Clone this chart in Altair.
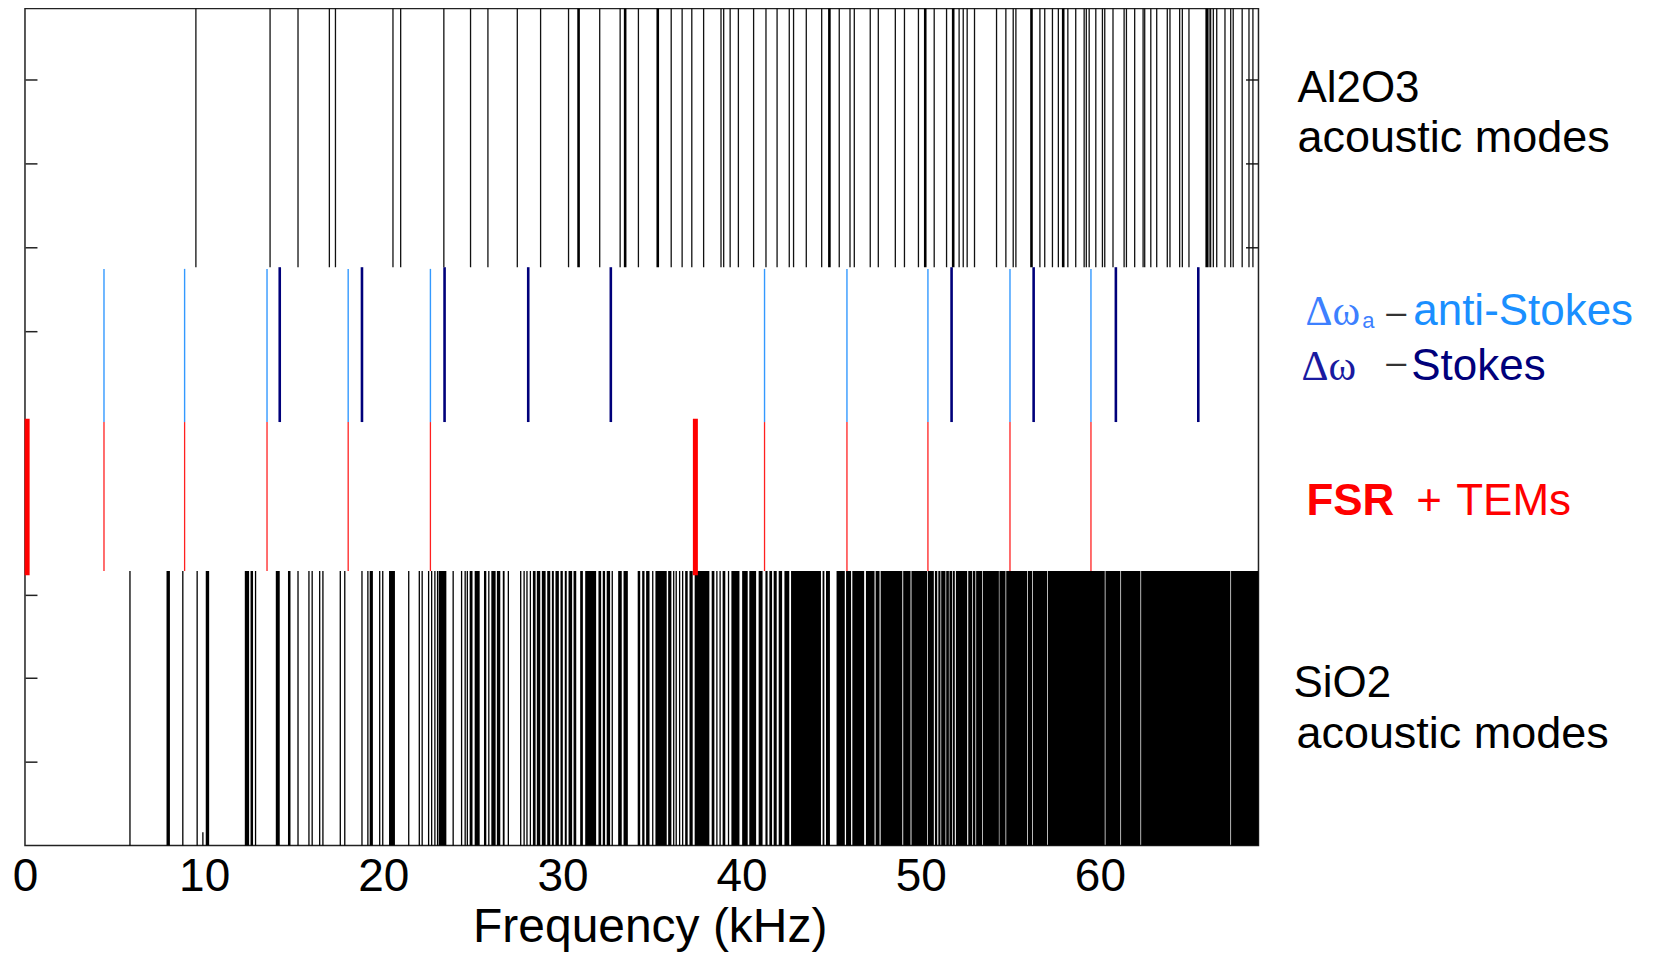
import altair as alt
import pandas as pd

# ---------------- data (kHz) ----------------
al2o3_modes = [9.54, 13.68, 15.24, 16.99, 17.33, 20.54, 20.97, 23.38, 24.87, 25.84, 27.48,
               28.78, 30.34, 32.08, 33.22, 34.24, 36.07, 36.68, 37.22, 37.88, 38.85, 39.00,
               39.36, 39.82, 40.67, 41.36, 41.98, 42.66, 42.90, 43.61, 44.47, 45.45, 46.05,
               46.29, 47.18, 47.63, 48.58, 49.09, 49.87, 50.75, 51.44, 52.14, 52.37, 52.59,
               53.00, 54.23, 54.75, 55.16, 55.31, 56.65, 56.92, 57.35, 57.68, 58.21, 58.65,
               59.12, 59.24, 59.40, 59.77, 60.14, 60.27, 60.73, 61.35, 61.48, 61.94, 62.41,
               62.50, 62.84, 63.17, 63.76, 63.91, 64.45, 64.60, 64.97, 66.09, 66.18, 66.33,
               66.52, 66.98, 67.30, 67.44, 67.94, 68.32, 68.54]
al2o3_strong = [30.90, 33.50, 35.32, 44.90, 50.25, 51.81, 56.18, 57.95, 65.96]

anti_stokes = [4.41, 8.91, 13.51, 18.04, 22.63, 41.28, 45.88, 50.40, 54.98, 59.50]
stokes = [14.22, 18.81, 23.42, 28.09, 32.70, 51.72, 56.30, 60.89, 65.49]

tems = [4.41, 8.91, 13.51, 18.04, 22.63, 41.28, 45.88, 50.40, 54.98, 59.50]
fsr = [0.12, 37.42]

sio2_modes = [5.86, 8.81, 9.61, 12.87, 15.24, 15.85, 16.03, 16.45, 16.63, 17.60, 17.85,
              18.81, 19.14, 19.80, 19.97, 21.42, 22.01, 22.17, 22.53, 22.70, 22.88, 23.03,
              23.90, 24.37, 24.57, 24.69, 25.89, 26.98, 27.67, 27.86, 28.02, 28.21, 32.78,
              35.04, 36.21, 36.35, 36.54, 36.71, 38.62, 38.80, 39.27]
sio2_stub = [9.93]
sio2_band_start = [7.90, 10.09, 12.27, 12.59, 14.00, 14.68, 19.24, 20.32, 23.09, 24.82, 25.10,
                   25.62, 26.03, 26.34, 26.67, 28.35, 28.57, 28.85, 29.15, 29.41, 29.61, 29.89,
                   30.13, 30.34, 30.62, 30.99, 31.27, 32.01, 32.25, 32.47, 33.11, 33.41, 34.20,
                   34.45, 34.67, 35.19, 35.90, 36.85, 37.09, 37.38, 38.33, 38.94, 39.43, 40.03,
                   40.43, 40.95, 41.33, 41.55, 41.79, 42.07, 42.39, 42.76, 44.52, 44.71, 45.30,
                   45.83, 46.18, 46.94, 47.48, 47.76, 49.02, 49.48, 50.40, 50.79, 50.98, 51.14,
                   51.42, 51.60, 51.79, 51.96, 52.65, 52.91, 53.09, 53.47, 54.39, 54.77, 55.98,
                   56.26, 57.09, 60.31, 61.18, 62.30, 67.32]
sio2_band_end = [8.09, 10.28, 12.51, 12.73, 14.22, 14.82, 19.42, 20.65, 23.52, 24.98, 25.38,
                 25.75, 26.27, 26.53, 26.77, 28.50, 28.76, 29.06, 29.32, 29.52, 29.80, 30.02,
                 30.24, 30.54, 30.77, 31.14, 31.88, 32.16, 32.38, 32.66, 33.31, 33.65, 34.34,
                 34.58, 34.86, 35.82, 36.08, 36.99, 37.27, 38.20, 38.48, 39.09, 39.88, 40.34,
                 40.81, 41.17, 41.45, 41.70, 41.96, 42.26, 42.66, 44.43, 44.62, 44.93, 45.76,
                 46.11, 46.84, 47.42, 47.70, 48.97, 49.43, 50.36, 50.73, 50.92, 51.10, 51.38,
                 51.57, 51.75, 51.90, 52.59, 52.87, 53.05, 53.43, 54.36, 54.73, 55.94, 56.22,
                 57.05, 60.27, 61.14, 62.26, 67.28, 68.85]

x_ticks = [0, 10, 20, 30, 40, 50, 60]

# ---------------- layout ----------------
X_MAX = 68.85
W, H = 1235, 838
FONT = "Liberation Sans"

xscale = alt.Scale(domain=[0, X_MAX], nice=False, zero=False)
yscale = alt.Scale(domain=[0, 10], nice=False, zero=False)

x_axis = alt.Axis(values=x_ticks, ticks=False, tickSize=0, domain=False, grid=False,
                  labelFontSize=46, labelFont=FONT, labelColor="black", labelPadding=45,
                  labelBaseline="alphabetic", labelFlush=False, title=None, format="d")
left_axis = alt.Axis(values=[1, 2, 3, 6.15, 7.15, 8.15, 9.15], labels=False, domain=False,
                     grid=False, tickSize=12, offset=-12, tickColor="#222", tickWidth=1.5,
                     title=None)
right_axis = alt.Axis(orient="right", values=[7.15, 8.15, 9.15], labels=False, domain=False,
                      grid=False, tickSize=13, offset=-13, tickColor="#222", tickWidth=1.5,
                      title=None)


def rules(values, lo, hi, color, width, yaxis=None):
    df = pd.DataFrame({"f": values})
    return alt.Chart(df).mark_rule(color=color, strokeWidth=width).encode(
        x=alt.X("f:Q", scale=xscale, axis=x_axis),
        y=alt.YDatum(lo, scale=yscale, axis=yaxis),
        y2=alt.Y2Datum(hi),
    )


def label(s, x, y, size, color="black", font=FONT, weight="normal", align="left"):
    return alt.Chart(alt.Data(values=[{}])).mark_text(
        align=align, baseline="alphabetic", fontSize=size, font=font,
        fontWeight=weight, color=color
    ).encode(x=alt.value(x), y=alt.value(y), text=alt.value(s))


bands = pd.DataFrame({"s": sio2_band_start, "e": sio2_band_end})
sio2_rect = alt.Chart(bands).mark_rect(color="black").encode(
    x=alt.X("s:Q", scale=xscale, axis=x_axis),
    x2="e:Q",
    y=alt.YDatum(0, scale=yscale, axis=None),
    y2=alt.Y2Datum(3.28),
)

layers = [
    sio2_rect,
    rules(sio2_modes, 0, 3.28, "black", 1.3),
    rules(sio2_stub, 0, 0.16, "black", 1.3),
    rules(tems, 3.28, 5.06, "#ff2020", 1.3),
    rules(fsr, 3.23, 5.10, "#ff0000", 5),
    rules(anti_stokes, 5.06, 6.89, "#3399ff", 1.4),
    rules(stokes, 5.06, 6.91, "#00007a", 2.6, yaxis=right_axis),
    rules(al2o3_modes, 6.91, 10, "#111111", 1.3, yaxis=left_axis),
    rules(al2o3_strong, 6.91, 10, "#000000", 2.6),
    label("Al2O3", 1274, 94, 44),
    label("acoustic modes", 1274, 144, 45),
    label("\u0394\u03c9", 1282, 317, 42, color="#3d80ff", font="Liberation Serif"),
    label("a", 1339, 320, 22, color="#3d80ff"),
    label("\u2013", 1363, 316, 36, color="#333333"),
    label("anti-Stokes", 1390, 317, 44, color="#1a8fff"),
    label("\u0394\u03c9", 1278, 372, 42, color="#1a1aa0", font="Liberation Serif"),
    label("\u2013", 1363, 366, 36, color="#333333"),
    label("Stokes", 1388, 372, 44, color="#00007a"),
    label("FSR", 1283, 507, 44, color="#ff0000", weight="bold"),
    label("+", 1393, 507, 44, color="#ff0000"),
    label("TEMs", 1433, 507, 44, color="#ff0000"),
    label("SiO2", 1270, 689, 44),
    label("acoustic modes", 1273, 740, 45),
    label("Frequency (kHz)", 626, 935, 48, align="center"),
]

chart = alt.layer(*layers).resolve_axis(y="independent").properties(
    width=W, height=H,
    padding={"left": 17, "top": 0, "right": 390, "bottom": 112},
    autosize=alt.AutoSizeParams(type="none"),
    background="white",
).configure_view(stroke="#222222", strokeWidth=1.5)

chart.save("out.html", embed_options={"renderer": "svg", "actions": False})
